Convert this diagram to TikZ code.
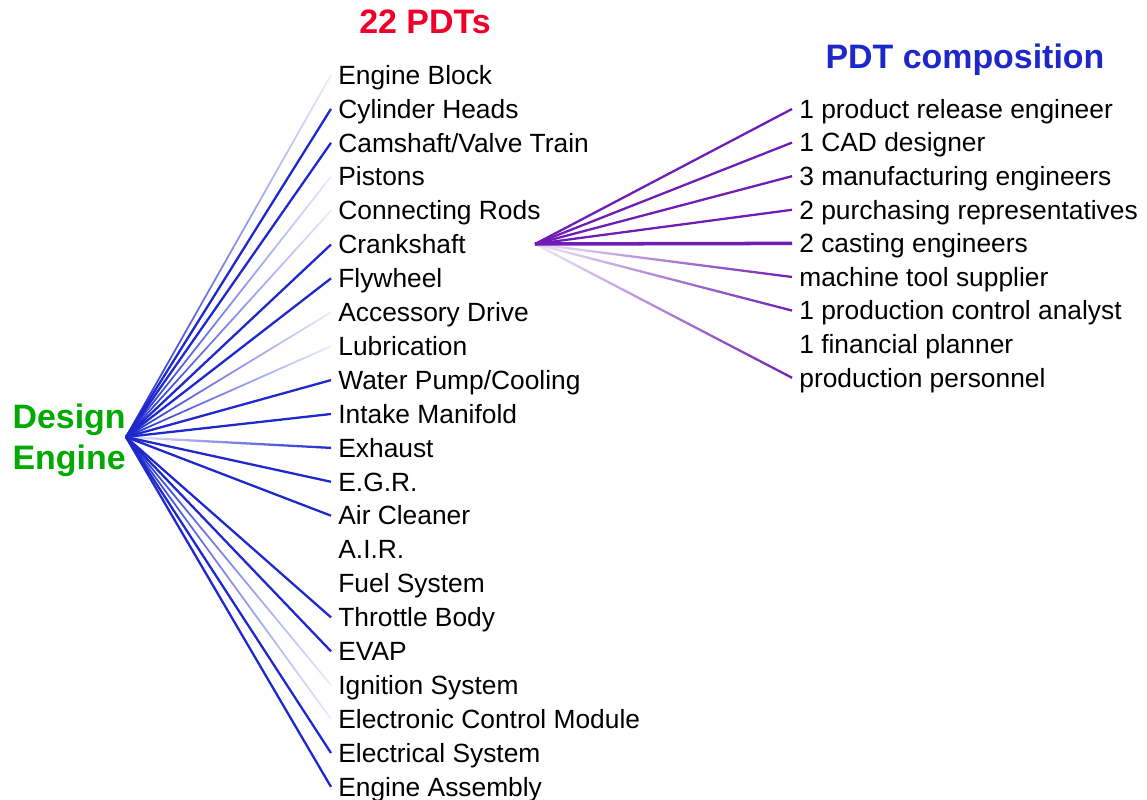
\documentclass[tikz,border=0pt]{standalone}
\usepackage{fontspec}
\setmainfont{Liberation Sans}
\usetikzlibrary{fadings}
\definecolor{headred}{RGB}{240,0,40}
\definecolor{headgreen}{RGB}{0,170,0}
\definecolor{headblue}{RGB}{30,40,200}
\definecolor{linkblue}{RGB}{30,40,205}
\definecolor{linkpurple}{RGB}{110,30,180}
\tikzfading[name=fadeend, left color=transparent!0, middle color=transparent!25, right color=transparent!92]
\tikzfading[name=fadestart, left color=transparent!90, middle color=transparent!20, right color=transparent!0]

\begin{document}
\begin{tikzpicture}[x=0.02cm, y=-0.02cm,
    item/.style={anchor=west, inner xsep=0.14cm, inner ysep=0pt, text height=0.5cm, text depth=0.128cm, font=\fontsize{15}{17}\selectfont},
    head/.style={inner sep=0pt, font=\bfseries\fontsize{19.3}{23.2}\selectfont},
    link/.style={draw=linkblue, line width=1.3pt},
    fadelink/.style={link, line width=1pt, path fading=fadeend},
    teamlink/.style={draw=linkpurple, line width=1.3pt}]
    \useasboundingbox (0,0) rectangle (1147,800);

    % titles
    \node[head, text=headred] (pdts) at (425,22) {22 PDTs};
    \node[head, text=headblue] (comp) at (965,60) {PDT composition};
    \node[head, text=headgreen, anchor=east, align=center, text depth=0pt] (design) at (126,437) {Design\\Engine};

    % the 22 teams
    \foreach \txt [count=\i] in {Engine Block, Cylinder Heads, Camshaft/Valve Train, Pistons, Connecting Rods,
        Crankshaft, Flywheel, Accessory Drive, Lubrication, Water Pump/Cooling, Intake Manifold, Exhaust,
        E.G.R., Air Cleaner, A.I.R., Fuel System, Throttle Body, EVAP, Ignition System,
        Electronic Control Module, Electrical System, Engine Assembly}
        \node[item] (p\i) at (331,{75+(\i-1)*33.9}) {\txt};

    % one team's members
    \foreach \txt [count=\j] in {1 product release engineer, 1 CAD designer, 3 manufacturing engineers,
        2 purchasing representatives, 2 casting engineers, machine tool supplier,
        1 production control analyst, 1 financial planner, production personnel}
        \node[item] (r\j) at (792,{109+(\j-1)*33.6}) {\txt};

    \foreach \i in {2,3,6,7,10,11,13,14,17,18,21,22}
        \draw[link] (design.east) -- (p\i.west);
    \foreach \i in {1,4,5,8,9,19,20}
        \draw[fadelink] (design.east) -- (p\i.west);
    \draw[link, path fading=fadestart] (design.east) -- (p12.west);

    \coordinate (fork) at (535,244);
    \foreach \j in {1,2,3,4}
        \draw[teamlink] (fork) -- (r\j.west);
    \draw[teamlink, line width=2pt] (fork) -- (r5.west);
    \foreach \j in {6,7,9}
        \draw[teamlink, path fading=fadestart] (fork) -- (r\j.west);
\end{tikzpicture}
\end{document}
